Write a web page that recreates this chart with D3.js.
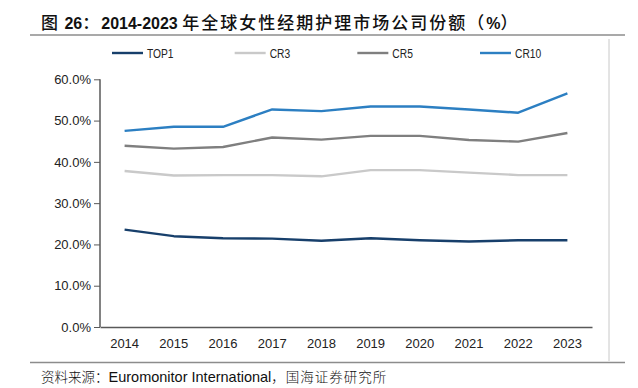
<!DOCTYPE html>
<html>
<head>
<meta charset="utf-8">
<script src="https://cdn.jsdelivr.net/npm/d3@7"></script>
<style>
  html, body { margin: 0; padding: 0; background: #fff; }
  svg { display: block; }
</style>
</head>
<body>
<svg id="chart" width="638" height="388"></svg>
<script>
// data
const years = ['2014', '2015', '2016', '2017', '2018', '2019', '2020', '2021', '2022', '2023'];
const top1 = [23.6, 22.0, 21.5, 21.4, 20.9, 21.5, 21.0, 20.7, 21.0, 21.0];
const cr3 = [37.8, 36.7, 36.8, 36.8, 36.5, 38.0, 38.0, 37.4, 36.8, 36.8];
const cr5 = [43.9, 43.2, 43.6, 45.9, 45.4, 46.3, 46.3, 45.3, 44.9, 47.0];
const cr10 = [47.5, 48.5, 48.5, 52.7, 52.3, 53.4, 53.4, 52.7, 51.9, 56.6];
const seriesNames = ['TOP1', 'CR3', 'CR5', 'CR10'];
const yTicks = [0, 10, 20, 30, 40, 50, 60];

const colors = ['#173f6b', '#c9c9c9', '#7f7f7f', '#2c7fc2'];
const series = [top1, cr3, cr5, cr10];

const svg = d3.select('#chart');
const cjk = '"Noto Sans CJK SC", sans-serif';
const latin = '"Liberation Sans", Arial, sans-serif';

// title: mixed bold latin + CJK runs
const title = svg.append('text')
  .attr('x', 41).attr('y', 29)
  .attr('fill', '#111');
const titleRuns = [
  ['图', true], [' 26', false], ['：', true], ['2014-2023 ', false],
  ['年全球女性经期护理市场公司份额（', true], ['%', false], ['）', true]
];
titleRuns.forEach(([s, isCjk]) => {
  const t = title.append('tspan').text(s);
  if (isCjk) {
    t.attr('font-family', cjk).attr('font-size', 17).attr('font-weight', 500)
      .attr('letter-spacing', 2);
  } else {
    t.attr('font-family', latin).attr('font-size', 16).attr('font-weight', 'bold');
  }
});

// frame lines
svg.append('line')
  .attr('x1', 30).attr('x2', 625).attr('y1', 35).attr('y2', 35)
  .attr('stroke', '#8c8c8c').attr('stroke-width', 1.5);
svg.append('line')
  .attr('x1', 609).attr('x2', 609).attr('y1', 39).attr('y2', 361)
  .attr('stroke', '#c8c8c8').attr('stroke-width', 1);
svg.append('line')
  .attr('x1', 30).attr('x2', 625).attr('y1', 362.5).attr('y2', 362.5)
  .attr('stroke', '#8c8c8c').attr('stroke-width', 1.5);

// source note
svg.append('text')
  .attr('x', 41).attr('y', 382)
  .attr('font-family', latin)
  .attr('font-size', 14.5)
  .attr('fill', '#111')
  .call(t => {
    t.append('tspan').attr('font-family', cjk).attr('font-weight', 300)
      .attr('font-size', 13.5).text('资料来源：');
    t.append('tspan').text('Euromonitor International');
    t.append('tspan').attr('font-family', cjk).attr('font-weight', 300)
      .attr('font-size', 13.5).attr('letter-spacing', 1).text('，国海证券研究所');
  });

// scales
const x = d3.scaleBand().domain(years).range([100, 592]);
const y = d3.scaleLinear().domain([0, 60]).range([327, 79.3]);

// y axis
const yAxis = svg.append('g')
  .attr('transform', 'translate(100,0)')
  .call(d3.axisLeft(y).tickValues(yTicks).tickSize(6).tickPadding(3)
    .tickFormat(d => d.toFixed(1) + '%'));
yAxis.select('.domain').attr('stroke', '#595959').attr('stroke-width', 1.5)
  .attr('d', `M0,${y(0)}V${y(60)}`);
yAxis.selectAll('.tick line').attr('stroke', '#595959');
yAxis.selectAll('.tick text')
  .attr('font-family', latin).attr('font-size', 13).attr('fill', '#222');

// x axis
const xAxis = svg.append('g')
  .attr('transform', `translate(0,${y(0)})`)
  .call(d3.axisBottom(x).tickSize(0).tickPadding(12));
xAxis.select('.domain').attr('stroke', '#595959').attr('stroke-width', 1.5);
xAxis.selectAll('.tick text')
  .attr('font-family', latin).attr('font-size', 13).attr('fill', '#222');

// lines
const line = d3.line()
  .x((d, i) => x(years[i]) + x.bandwidth() / 2)
  .y(d => y(d));

svg.append('g').selectAll('path')
  .data(series)
  .join('path')
    .attr('d', line)
    .attr('fill', 'none')
    .attr('stroke', (d, i) => colors[i])
    .attr('stroke-width', 2.4)
    .attr('stroke-linejoin', 'round');

// legend
const legendX = d3.scalePoint().domain(seriesNames).range([112, 480]);
const legend = svg.append('g').selectAll('g')
  .data(seriesNames)
  .join('g')
    .attr('transform', d => `translate(${legendX(d)},53)`);
legend.append('line')
  .attr('x1', 0).attr('x2', 31)
  .attr('stroke', (d, i) => colors[i])
  .attr('stroke-width', 2.4);
legend.append('text')
  .attr('transform', 'translate(35,4.5) scale(0.82,1)')
  .attr('font-family', latin)
  .attr('font-size', 12.5)
  .attr('fill', '#222')
  .text(d => d);
</script>
</body>
</html>
